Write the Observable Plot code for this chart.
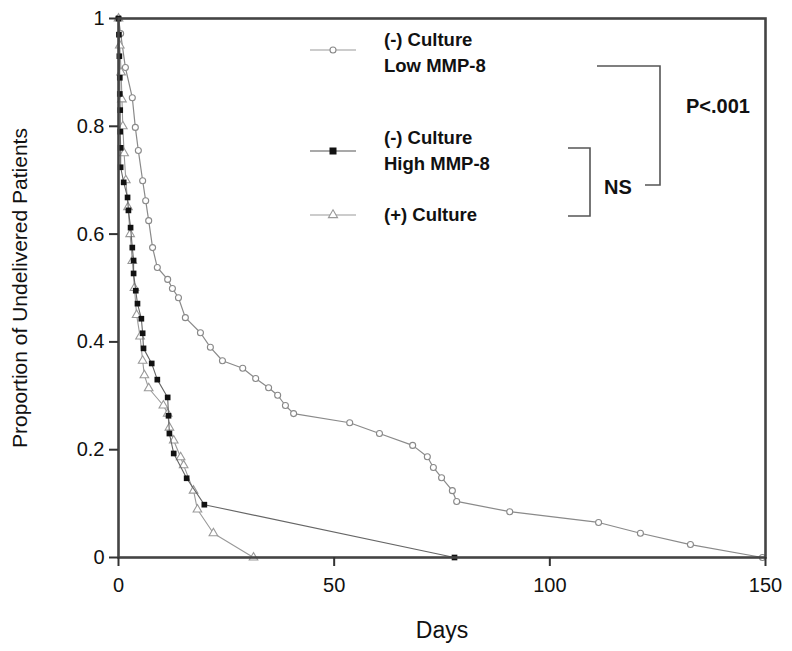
<!DOCTYPE html>
<html>
<head>
<meta charset="utf-8">
<script src="https://cdn.jsdelivr.net/npm/d3@7"></script>
<script src="https://cdn.jsdelivr.net/npm/@observablehq/plot@0.6"></script>
<style>
  html, body { margin: 0; padding: 0; background: #fff; }
  #chart { width: 792px; height: 651px; }
</style>
</head>
<body>
<div id="chart"></div>
<script>
// (-) Culture, Low MMP-8 (open circles)
const lowDays = [0, 0.5, 1.6, 3.2, 3.9, 4.6, 5.6, 6.3, 7.0, 7.9, 9.0, 11.4, 12.5, 13.9, 15.5, 19.0, 21.3, 24.1, 28.8, 31.8, 34.8, 36.9, 38.7, 40.6, 53.6, 60.5, 68.2, 71.6, 73.0, 74.9, 77.4, 78.4, 90.7, 111.3, 121.0, 132.6, 149.3];
const lowProp = [1, 0.972, 0.909, 0.853, 0.798, 0.755, 0.699, 0.662, 0.625, 0.575, 0.538, 0.516, 0.499, 0.482, 0.445, 0.417, 0.390, 0.365, 0.351, 0.332, 0.315, 0.301, 0.282, 0.267, 0.250, 0.230, 0.208, 0.187, 0.167, 0.148, 0.124, 0.104, 0.085, 0.065, 0.045, 0.024, 0];

// (-) Culture, High MMP-8 (filled squares)
const highDays = [0, 0.1, 0.2, 0.3, 0.3, 0.4, 0.4, 0.5, 0.5, 1.2, 2.1, 2.3, 2.8, 3.2, 3.5, 3.5, 4.0, 4.4, 5.3, 5.6, 5.8, 7.7, 9.0, 11.4, 11.6, 11.8, 12.8, 15.8, 19.9, 77.9];
const highProp = [1, 0.97, 0.93, 0.89, 0.86, 0.83, 0.79, 0.76, 0.724, 0.696, 0.668, 0.644, 0.612, 0.575, 0.551, 0.527, 0.495, 0.471, 0.443, 0.416, 0.388, 0.360, 0.330, 0.297, 0.263, 0.230, 0.193, 0.147, 0.098, 0];

// (+) Culture (open triangles)
const posDays = [0, 0.3, 0.6, 0.8, 1.0, 1.3, 1.7, 2.2, 2.7, 3.2, 3.7, 4.2, 5.0, 5.6, 6.0, 7.0, 10.4, 11.4, 11.8, 12.8, 14.4, 15.1, 17.4, 18.3, 22.0, 31.3];
const posProp = [1, 0.95, 0.90, 0.85, 0.80, 0.75, 0.70, 0.65, 0.60, 0.55, 0.50, 0.45, 0.41, 0.365, 0.338, 0.314, 0.282, 0.267, 0.241, 0.217, 0.186, 0.171, 0.124, 0.089, 0.045, 0];

const xTicks = [0, 50, 100, 150];
const yTicks = [0, 0.2, 0.4, 0.6, 0.8, 1];
const legendLabels = [["(-) Culture", "Low MMP-8"], ["(-) Culture", "High MMP-8"], ["(+) Culture"]];
const statLabels = ["P<.001", "NS"];
const xTitle = "Days";
const yTitle = "Proportion of Undelivered Patients";

const toRows = (xs, ys) => xs.map((d, i) => ({day: d, prop: ys[i]}));
const low = toRows(lowDays, lowProp);
const high = toRows(highDays, highProp);
const pos = toRows(posDays, posProp);

const FONT = "Liberation Sans, Arial, Helvetica, sans-serif";

const plot = Plot.plot({
  width: 792,
  height: 651,
  marginLeft: 118,
  marginRight: 27,
  marginTop: 18,
  marginBottom: 94,
  style: {fontFamily: FONT, background: "#fff", color: "#111"},
  x: {domain: [0, 150], label: null},
  y: {domain: [0, 1], label: null},
  marks: [
    Plot.line(low, {x: "day", y: "prop", stroke: "#8a8a8a", strokeWidth: 1.2}),
    Plot.dot(low, {x: "day", y: "prop", symbol: "circle", r: 3, stroke: "#888", strokeWidth: 1.1, fill: "#fff"}),
    Plot.line(pos, {x: "day", y: "prop", stroke: "#999", strokeWidth: 1.1}),
    Plot.dot(pos, {x: "day", y: "prop", symbol: "triangle", r: 3.2, stroke: "#999", strokeWidth: 1.1, fill: "#fff"}),
    Plot.line(high, {x: "day", y: "prop", stroke: "#666", strokeWidth: 1.1}),
    Plot.dot(high, {x: "day", y: "prop", symbol: "square", r: 3.2, fill: "#111", stroke: "none"}),
    Plot.frame({stroke: "#444", strokeWidth: 2.6}),
    Plot.axisX({ticks: xTicks, tickSize: 9, tickPadding: 11, fontSize: 20, stroke: "#333", strokeWidth: 2, tickFormat: d => String(d), label: null}),
    Plot.axisY({ticks: yTicks, tickSize: 9, tickPadding: 5, fontSize: 20, stroke: "#333", strokeWidth: 2, tickFormat: d => String(d), label: null}),
    Plot.text([xTitle], {frameAnchor: "bottom", dy: 80, fontSize: 23, fill: "#111", textAnchor: "middle"}),
    Plot.text([yTitle], {frameAnchor: "left", dx: -98, rotate: -90, fontSize: 21, fill: "#111", textAnchor: "middle"})
  ]
});

document.getElementById("chart").appendChild(plot);

// Legend and significance brackets (annotation overlay)
const svg = d3.select(plot);
const g = svg.append("g").attr("font-family", FONT).attr("font-weight", "bold").attr("font-size", 18.5).attr("fill", "#111").attr("text-anchor", "start");
const items = [
  {y: 53, my: 50, lines: legendLabels[0], sym: "circle"},
  {y: 151, my: 151, lines: legendLabels[1], sym: "square"},
  {y: 215, my: 215, lines: legendLabels[2], sym: "triangle"}
];
items.forEach(it => {
  const col = it.sym === "square" ? "#555" : "#999";
  const my = it.my;
  g.append("line").attr("x1", 310).attr("x2", 356).attr("y1", my).attr("y2", my).attr("stroke", col).attr("stroke-width", 1.1);
  if (it.sym === "circle") g.append("circle").attr("cx", 333).attr("cy", my).attr("r", 3).attr("fill", "#fff").attr("stroke", "#888").attr("stroke-width", 1.1);
  if (it.sym === "square") g.append("rect").attr("x", 329.5).attr("y", my - 3.5).attr("width", 7).attr("height", 7).attr("fill", "#111");
  if (it.sym === "triangle") g.append("path").attr("d", d3.symbol(d3.symbolTriangle, 36)()).attr("transform", `translate(333,${my})`).attr("fill", "#fff").attr("stroke", "#999").attr("stroke-width", 1.1);
  const n = it.lines.length;
  it.lines.forEach((t, i) => {
    g.append("text").attr("x", 384).attr("y", it.y + (i - (n - 1) / 2) * 26).attr("dy", "0.35em").text(t);
  });
});
const br = svg.append("g").attr("stroke", "#555").attr("stroke-width", 1.6).attr("fill", "none");
// NS bracket
br.append("path").attr("d", "M568,148H590V216H568");
// P<.001 bracket
br.append("path").attr("d", "M597,66H660V185H645");
g.append("text").attr("x", 618).attr("y", 187).attr("dy", "0.35em").attr("text-anchor", "middle").attr("font-size", 20).text(statLabels[1]);
g.append("text").attr("x", 718).attr("y", 106).attr("dy", "0.35em").attr("text-anchor", "middle").attr("font-size", 20).text(statLabels[0]);
</script>
</body>
</html>
